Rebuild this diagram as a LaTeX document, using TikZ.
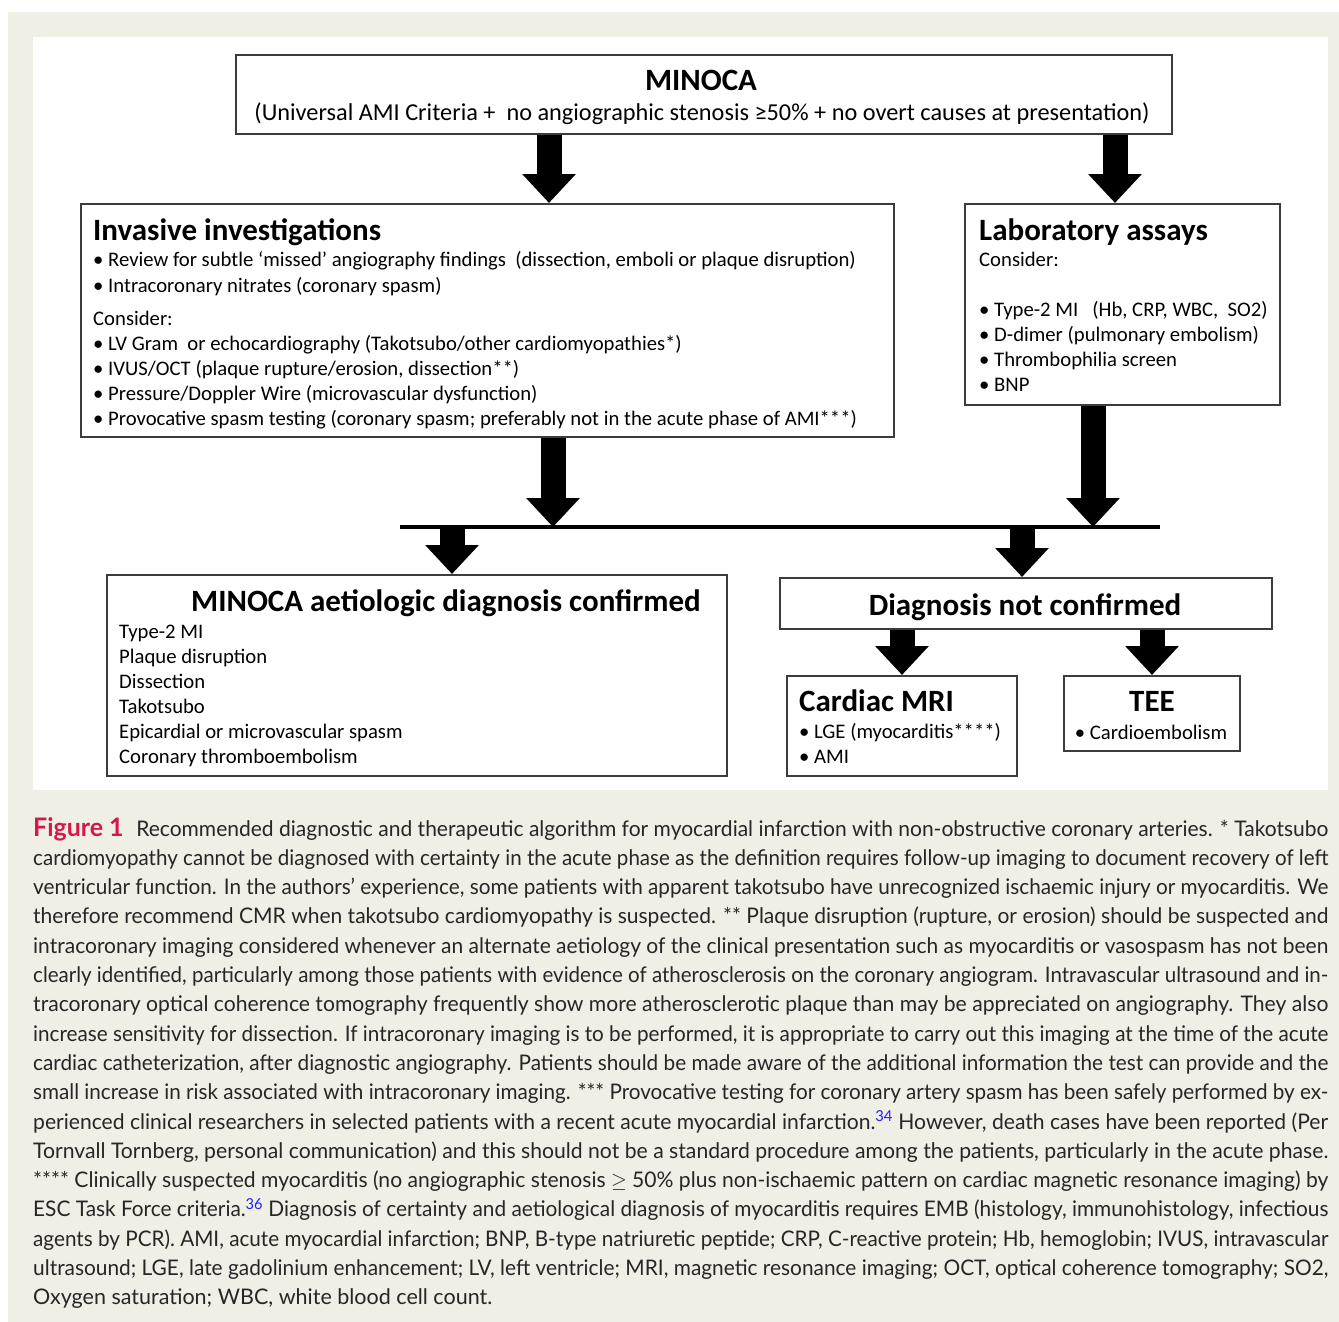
\documentclass[tikz,border=0pt]{standalone}
\usepackage{fontspec}
\usepackage{graphicx}
\usetikzlibrary{arrows.meta}
\setmainfont{Lato}
\newfontfamily\diag{Carlito}
\definecolor{beige}{RGB}{240,239,229}
\definecolor{figred}{RGB}{214,24,72}
\definecolor{refblue}{RGB}{30,30,255}
\definecolor{boxline}{RGB}{60,60,60}
\newlength\capW
\setlength\capW{1295pt}
\newsavebox\capbox
\newcommand\capline[1]{\sbox\capbox{#1}\ifdim\wd\capbox>\capW\resizebox{\capW}{\height}{\usebox\capbox}\else\makebox[\capW][s]{#1}\fi}
\newcommand\refnum[1]{\textsuperscript{\color{refblue}#1}}
\tikzset{
 box/.style={draw=boxline, line width=2pt, fill=white, inner sep=0pt},
 fat/.style={line width=25pt, -{Triangle[length=29pt,width=52pt]}},
 dtxt/.style={inner sep=0pt, anchor=base west, font=\diag\fontsize{20.7}{24}\selectfont},
 dsub/.style={inner sep=0pt, anchor=base, font=\diag\fontsize{24.3}{28}\selectfont},
 dtitle/.style={inner sep=0pt, anchor=base west, font=\diag\bfseries\fontsize{31}{36}\selectfont},
 ctxt/.style={inner sep=0pt, anchor=base west, font=\fontsize{21.5}{26}\selectfont, text=black!85},
}
\begin{document}
\begin{tikzpicture}[x=1pt,y=-1pt]
\useasboundingbox (0,0) rectangle (1339,1322);
\fill[white] (0,0) rectangle (1339,1322);
\fill[beige] (8,12) rectangle (1339,1322);
\fill[white] (33,37) rectangle (1328,790);

% boxes
\node[box, minimum width=936, minimum height=79] (minoca) at (704,94.5) {};
\node[box, minimum width=813, minimum height=233] (inv) at (487.5,320.5) {};
\node[box, minimum width=315, minimum height=201] (lab) at (1122.5,304.5) {};
\node[box, minimum width=620, minimum height=201] (conf) at (417,675.5) {};
\node[box, minimum width=492, minimum height=51] (notc) at (1026,603.5) {};
\node[box, minimum width=230, minimum height=100] (mri) at (902,726) {};
\node[box, minimum width=176, minimum height=75] (tee) at (1152,713.5) {};

% MINOCA
\node[dtitle, anchor=base] (t0) at (701,91) {MINOCA};
\node[dsub] (t0b) at (702,121) {(Universal AMI Criteria +\ \ no angiographic stenosis ≥50\% + no overt causes at presentation)};

% Invasive
\node[dtitle] (ti) at (93,240) {Invasive investigations};
\node[dtxt] (i1) at (93,266) {• Review for subtle ‘missed’ angiography findings\ \ (dissection, emboli or plaque disruption)};
\node[dtxt] (i2) at (93,292) {• Intracoronary nitrates (coronary spasm)};
\node[dtxt] (i3) at (93,325) {Consider:};
\node[dtxt] (i4) at (93,350) {• LV Gram\ \ or echocardiography (Takotsubo/other cardiomyopathies*)};
\node[dtxt] (i5) at (93,375) {• IVUS/OCT (plaque rupture/erosion, dissection**)};
\node[dtxt] (i6) at (93,400) {• Pressure/Doppler Wire (microvascular dysfunction)};
\node[dtxt] (i7) at (93,425) {• Provocative spasm testing (coronary spasm; preferably not in the acute phase of AMI***)};

% Lab
\node[dtitle] (tl) at (979,240) {Laboratory assays};
\node[dtxt] (l1) at (979,266) {Consider:};
\node[dtxt] (l2) at (979,316) {• Type-2 MI\ \ \ (Hb, CRP, WBC,\ \ SO2)};
\node[dtxt] (l3) at (979,341) {• D-dimer (pulmonary embolism)};
\node[dtxt] (l4) at (979,366) {• Thrombophilia screen};
\node[dtxt] (l5) at (979,391) {• BNP};

% Confirmed
\node[dtitle, anchor=base] (tc) at (446,611) {MINOCA aetiologic diagnosis confirmed};
\node[dtxt] (c1) at (119,638) {Type-2 MI};
\node[dtxt] (c2) at (119,663) {Plaque disruption};
\node[dtxt] (c3) at (119,688) {Dissection};
\node[dtxt] (c4) at (119,713) {Takotsubo};
\node[dtxt] (c5) at (119,738) {Epicardial or microvascular spasm};
\node[dtxt] (c6) at (119,763) {Coronary thromboembolism};

% Not confirmed
\node[dtitle, anchor=base] (tn) at (1025,615) {Diagnosis not confirmed};
\node[dtitle] (tm) at (799,711) {Cardiac MRI};
\node[dtxt] (m1) at (799,738) {• LGE (myocarditis****)};
\node[dtxt] (m2) at (799,763) {• AMI};
\node[dtitle, anchor=base] (tt) at (1152,711) {TEE};
\node[dtxt, anchor=base] (tt1) at (1151,739) {• Cardioembolism};

% connectors
\coordinate (x1) at (549,0);
\coordinate (x2) at (1115,0);
\coordinate (x3) at (553,0);
\coordinate (x4) at (1093,0);
\coordinate (x5) at (452,0);
\coordinate (x6) at (1022,0);
\coordinate (x7) at (902,0);
\coordinate (x8) at (1152,0);
\coordinate (hl) at (400,527);
\coordinate (hr) at (1160,527);
\draw[line width=4pt] (hl) -- (hr);
\draw[fat] (minoca.south -| x1) -- (inv.north -| x1);
\draw[fat] (minoca.south -| x2) -- (lab.north -| x2);
\draw[fat] (inv.south -| x3) -- (hl -| x3);
\draw[fat] (lab.south -| x4) -- (hl -| x4);
\draw[fat] (hl -| x5) -- (conf.north -| x5);
\draw[fat] (hl -| x6) -- (notc.north -| x6);
\draw[fat] (notc.south -| x7) -- (mri.north -| x7);
\draw[fat] (notc.south -| x8) -- (tee.north -| x8);

% caption
\node[ctxt] (cap1) at (33,836) {\capline{{\color{figred}\bfseries\fontsize{25.5}{26}\selectfont Figure 1}\hspace{13pt}Recommended diagnostic and therapeutic algorithm for myocardial infarction with non-obstructive coronary arteries. * Takotsubo}};
\node[ctxt] (cap2) at (33,865.3) {\capline{cardiomyopathy cannot be diagnosed with certainty in the acute phase as the definition requires follow-up imaging to document recovery of left}};
\node[ctxt] (cap3) at (33,894.6) {\capline{ventricular function. In the authors’ experience, some patients with apparent takotsubo have unrecognized ischaemic injury or myocarditis. We}};
\node[ctxt] (cap4) at (33,923.9) {\capline{therefore recommend CMR when takotsubo cardiomyopathy is suspected. ** Plaque disruption (rupture, or erosion) should be suspected and}};
\node[ctxt] (cap5) at (33,953.2) {\capline{intracoronary imaging considered whenever an alternate aetiology of the clinical presentation such as myocarditis or vasospasm has not been}};
\node[ctxt] (cap6) at (33,982.5) {\capline{clearly identified, particularly among those patients with evidence of atherosclerosis on the coronary angiogram. Intravascular ultrasound and in-}};
\node[ctxt] (cap7) at (33,1011.8) {\capline{tracoronary optical coherence tomography frequently show more atherosclerotic plaque than may be appreciated on angiography. They also}};
\node[ctxt] (cap8) at (33,1041.1) {\capline{increase sensitivity for dissection. If intracoronary imaging is to be performed, it is appropriate to carry out this imaging at the time of the acute}};
\node[ctxt] (cap9) at (33,1070.4) {\capline{cardiac catheterization, after diagnostic angiography. Patients should be made aware of the additional information the test can provide and the}};
\node[ctxt] (cap10) at (33,1099.7) {\capline{small increase in risk associated with intracoronary imaging. *** Provocative testing for coronary artery spasm has been safely performed by ex-}};
\node[ctxt] (cap11) at (33,1129) {\capline{perienced clinical researchers in selected patients with a recent acute myocardial infarction.\refnum{34} However, death cases have been reported (Per}};
\node[ctxt] (cap12) at (33,1158.3) {\capline{Tornvall Tornberg, personal communication) and this should not be a standard procedure among the patients, particularly in the acute phase.}};
\node[ctxt] (cap13) at (33,1187.6) {\capline{**** Clinically suspected myocarditis (no angiographic stenosis $\geq$ 50\% plus non-ischaemic pattern on cardiac magnetic resonance imaging) by}};
\node[ctxt] (cap14) at (33,1216.9) {\capline{ESC Task Force criteria.\refnum{36} Diagnosis of certainty and aetiological diagnosis of myocarditis requires EMB (histology, immunohistology, infectious}};
\node[ctxt] (cap15) at (33,1246.2) {\capline{agents by PCR). AMI, acute myocardial infarction; BNP, B-type natriuretic peptide; CRP, C-reactive protein; Hb, hemoglobin; IVUS, intravascular}};
\node[ctxt] (cap16) at (33,1275.5) {\capline{ultrasound; LGE, late gadolinium enhancement; LV, left ventricle; MRI, magnetic resonance imaging; OCT, optical coherence tomography; SO2,}};
\node[ctxt] (cap17) at (33,1304.8) {Oxygen saturation; WBC, white blood cell count.};
\end{tikzpicture}
\end{document}
